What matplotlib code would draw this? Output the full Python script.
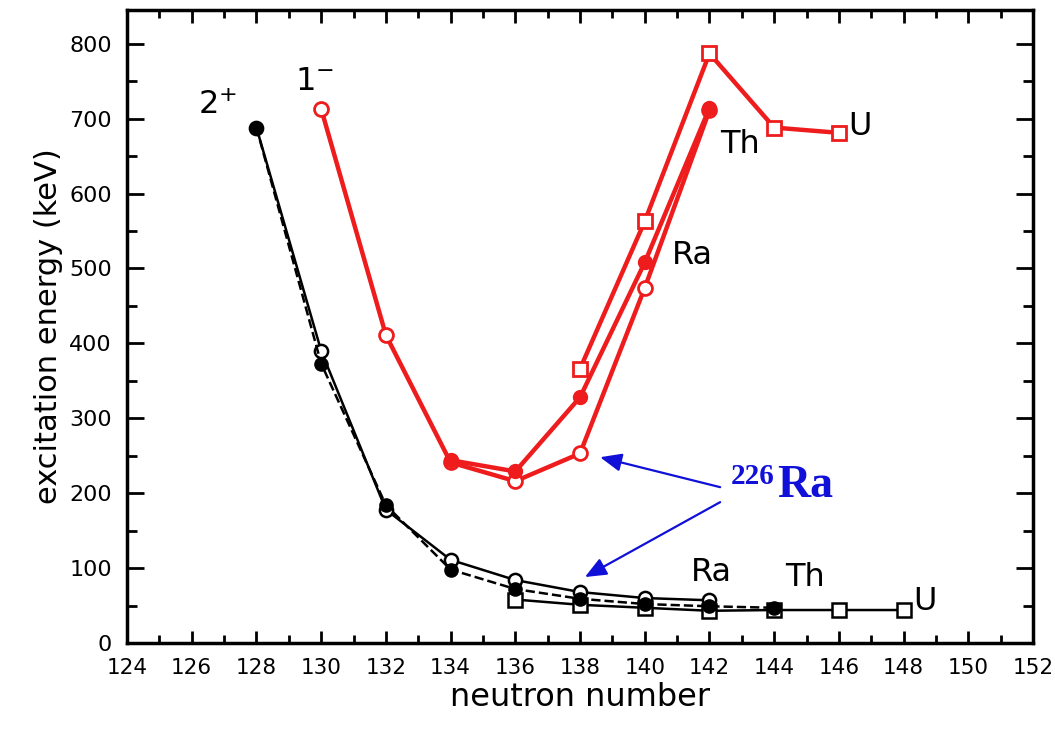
import matplotlib
matplotlib.use("Agg")
import matplotlib.pyplot as plt
from matplotlib.ticker import MultipleLocator

# 2+ states (black)
n_ra_2 = [128, 130, 132, 134, 136, 138, 140, 142]
e_ra_2 = [688, 390, 178, 111, 84, 68, 60, 57]
n_th_2 = [128, 130, 132, 134, 136, 138, 140, 142, 144]
e_th_2 = [688, 373, 184, 98, 72, 59, 52, 49, 47]
n_u_2 = [136, 138, 140, 142, 144, 146, 148]
e_u_2 = [58, 51, 47, 43, 44, 44, 44]

# 1- states (red)
n_ra_1 = [130, 132, 134, 136, 138, 140, 142]
e_ra_1 = [713, 411, 241, 216, 253, 474, 711]
n_th_1 = [134, 136, 138, 140, 142]
e_th_1 = [244, 229, 328, 508, 714]
n_u_1 = [138, 140, 142, 144, 146]
e_u_1 = [366, 563, 787, 688, 681]

RED = '#ee1c1c'
BLUE = '#1010d8'
font = 'DejaVu Sans'

fig = plt.figure(figsize=(10.55, 7.33), dpi=100)
ax = fig.add_axes([0.1204, 0.1228, 0.8588, 0.8636])

# black curves
ax.plot(n_ra_2, e_ra_2, '-', color='k', lw=1.8, marker='o', ms=9.5,
        mfc='white', mec='k', mew=1.8, zorder=3)
ax.plot(n_th_2, e_th_2, '--', color='k', lw=1.8, marker='o', ms=9.5,
        mfc='k', mec='k', zorder=4)
ax.plot(n_u_2, e_u_2, '-', color='k', lw=1.8, marker='s', ms=9.5,
        mfc='white', mec='k', mew=1.8, zorder=3)

# red curves
ax.plot(n_ra_1, e_ra_1, '-', color=RED, lw=3.2, marker='o', ms=10,
        mfc='white', mec=RED, mew=2, zorder=5)
ax.plot(n_th_1, e_th_1, '-', color=RED, lw=3.2, marker='o', ms=10,
        mfc=RED, mec=RED, zorder=6)
ax.plot(n_u_1, e_u_1, '-', color=RED, lw=3.2, marker='s', ms=10,
        mfc='white', mec=RED, mew=2, zorder=5)

ax.set_xlim(124, 152)
ax.set_ylim(0, 845)
ax.xaxis.set_major_locator(MultipleLocator(2))
ax.xaxis.set_minor_locator(MultipleLocator(1))
ax.yaxis.set_major_locator(MultipleLocator(100))
ax.yaxis.set_minor_locator(MultipleLocator(50))
ax.tick_params(which='both', direction='in', top=True, right=True, width=2)
ax.tick_params(which='major', length=12)
ax.tick_params(which='minor', length=7)
ax.tick_params(axis='x', which='major', length=9, pad=11, labelsize=15.5)
ax.tick_params(axis='x', which='minor', length=6)
ax.tick_params(axis='y', which='major', pad=11, labelsize=16)
for s in ax.spines.values():
    s.set_linewidth(2.5)

ax.set_xlabel('neutron number', family=font, fontsize=23, labelpad=3)
ax.set_ylabel('excitation energy (keV)', family=font, fontsize=22, labelpad=4)

# labels on curves
txt = dict(family=font, fontsize=23, ha='center', va='center')
ax.text(126.8, 717, r'2$^{+}$', **txt)
ax.text(129.8, 749, r'1$^{-}$', **txt)
ax.text(142.94, 666, 'Th', **txt)
ax.text(146.65, 689, 'U', **txt)
ax.text(141.46, 517, 'Ra', **txt)
ax.text(142.05, 94, 'Ra', **txt)
ax.text(144.95, 87, 'Th', **txt)
ax.text(148.66, 56, 'U', **txt)

# 226Ra label with arrows
ax.text(144.1, 195, 'Ra', family='Liberation Serif', fontweight='bold',
        fontsize=33, color=BLUE, ha='left', va='baseline')
ax.text(144.0, 212, '226', family='Liberation Serif', fontweight='bold',
        fontsize=21, color=BLUE, ha='right', va='baseline')
arrow = dict(arrowstyle='-|>,head_length=1.3,head_width=0.55', color=BLUE,
             lw=1.6, shrinkA=0, shrinkB=0)
ax.annotate('', xy=(138.62, 248), xytext=(142.33, 208), arrowprops=arrow)
ax.annotate('', xy=(138.15, 88), xytext=(142.33, 188), arrowprops=arrow)

fig.savefig('out.png', dpi=100)
